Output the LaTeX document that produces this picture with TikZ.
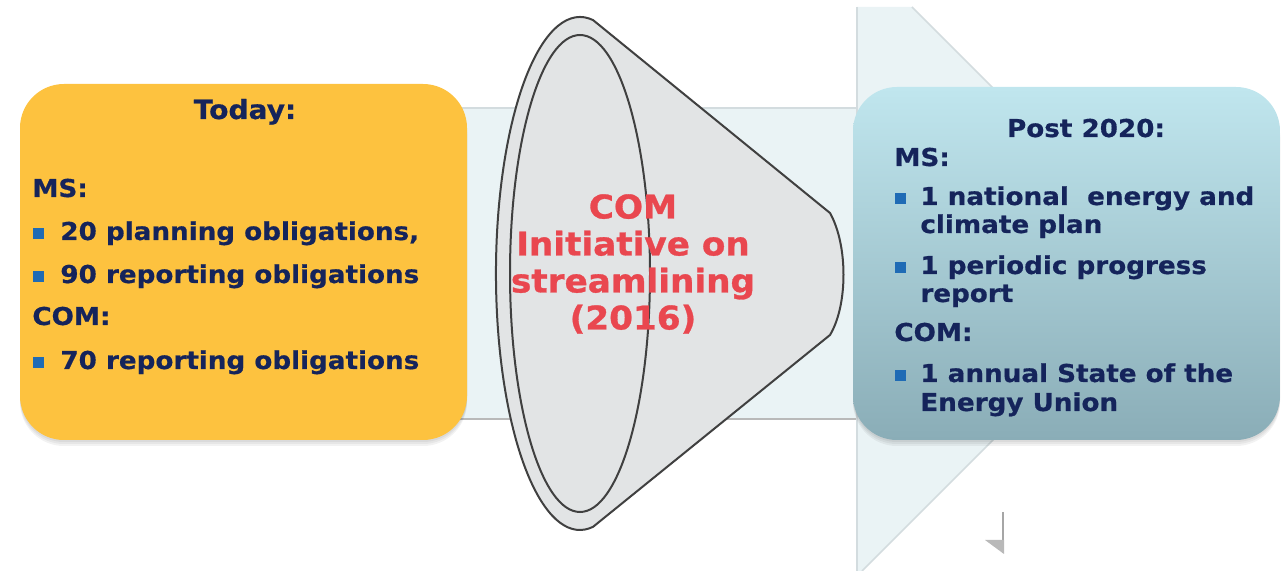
\documentclass[tikz,border=0pt]{standalone}
\usepackage{fontspec}
\setmainfont{DejaVu Sans}
\newfontfamily\boxfont[FakeStretch=1.065,FakeBold=0.6]{DejaVu Sans}
\newfontfamily\funnelfont[FakeStretch=1.05,FakeBold=0.9]{DejaVu Sans}
\definecolor{navy}{HTML}{15245B}
\definecolor{bullet}{HTML}{1F6BB5}
\definecolor{todayfill}{HTML}{FDC23F}
\definecolor{bandfill}{HTML}{EAF3F5}
\definecolor{bandedge}{HTML}{D3DCDF}
\definecolor{funnelfill}{HTML}{E2E4E5}
\definecolor{funnelred}{HTML}{E9474F}
\definecolor{posttop}{HTML}{C0E6EE}
\definecolor{postmid}{HTML}{A9CED7}
\definecolor{postbot}{HTML}{8AADB7}
\tikzset{
  txt/.style={anchor=base west, inner sep=0, text=navy,
    font=\boxfont\bfseries\fontsize{12.3}{13}\selectfont},
  bul/.style={fill=bullet, inner sep=0, minimum size=5.5pt},
  boxshadow/.style={fill=black, opacity=0.05, rounded corners=22pt},
}
\begin{document}
\begin{tikzpicture}[x=0.5pt, y=-0.5pt]
  \useasboundingbox (0,0) rectangle (1282,571);
  \fill[bandfill] (440,108) -- (857,108) -- (857,7) -- (912,7) -- (1169,264)
    -- (862,571) -- (857,571) -- (857,419) -- (440,419) -- cycle;
  \draw[bandedge, line width=0.6pt] (440,108) -- (857,108);
  \draw[gray!55, line width=1pt] (440,419) -- (857,419);
  \draw[bandedge, line width=0.8pt] (857,7) -- (857,571);
  \draw[bandedge, line width=0.8pt] (912,7) -- (1169,264) -- (862,571);
  \draw[gray!70, line width=1pt] (1003,512) -- (1003,553);
  \fill[gray!55] (985,540) -- (1004,540) -- (1004,554) -- cycle;
  \foreach \s in {2,4,6} {
    \fill[boxshadow] (20,84+\s) rectangle (467,440+\s);
    \fill[boxshadow] (853,87+\s) rectangle (1280,440+\s);
  }
  \fill[todayfill, rounded corners=22pt] (20,84) rectangle (467,440);
  \shade[top color=posttop, middle color=postmid, bottom color=postbot,
    rounded corners=22pt] (853,87) rectangle (1280,440);
  \filldraw[fill=funnelfill, draw=black!75, line width=1pt]
    (593.1,526.8) arc[start angle=81, end angle=279, x radius=84, y radius=256.5]
    -- (830,213) .. controls (848,245) and (848,305) .. (830,335) -- cycle;
  \draw[black!75, line width=1pt] (580,273.5) ellipse[x radius=70, y radius=238.5];
  \node[align=center, inner sep=0, text=funnelred,
    font=\funnelfont\bfseries\fontsize{16.3}{18.5}\selectfont] (init) at (633,264)
    {COM\\Initiative on\\streamlining\\(2016)};
  \node[txt, anchor=base, font=\boxfont\bfseries\fontsize{13.2}{14}\selectfont] (today) at (245,119) {Today:};
  \node[txt] (msl) at (32,197) {MS:};
  \node[bul] (bl1) at (38,234) {};
  \node[txt] (plan) at (60,240) {20 planning obligations,};
  \node[bul] (bl2) at (38,277) {};
  \node[txt] (rep90) at (60,283) {90 reporting obligations};
  \node[txt] (coml) at (32,325) {COM:};
  \node[bul] (bl3) at (38,363) {};
  \node[txt] (rep70) at (60,369) {70 reporting obligations};
  \node[txt, anchor=base] (post) at (1086,137) {Post 2020:};
  \node[txt] (msr) at (894,166) {MS:};
  \node[bul] (br1) at (900,199) {};
  \node[txt] (nat) at (920,205) {1 national\ \ energy and};
  \node[txt] (nat2) at (920,233) {climate plan};
  \node[bul] (br2) at (900,268) {};
  \node[txt] (prog) at (920,274) {1 periodic progress};
  \node[txt] (prog2) at (920,302) {report};
  \node[txt] (comr) at (894,341) {COM:};
  \node[bul] (br3) at (900,376) {};
  \node[txt] (soeu) at (920,382) {1 annual State of the};
  \node[txt] (soeu2) at (920,411) {Energy Union};
\end{tikzpicture}
\end{document}
